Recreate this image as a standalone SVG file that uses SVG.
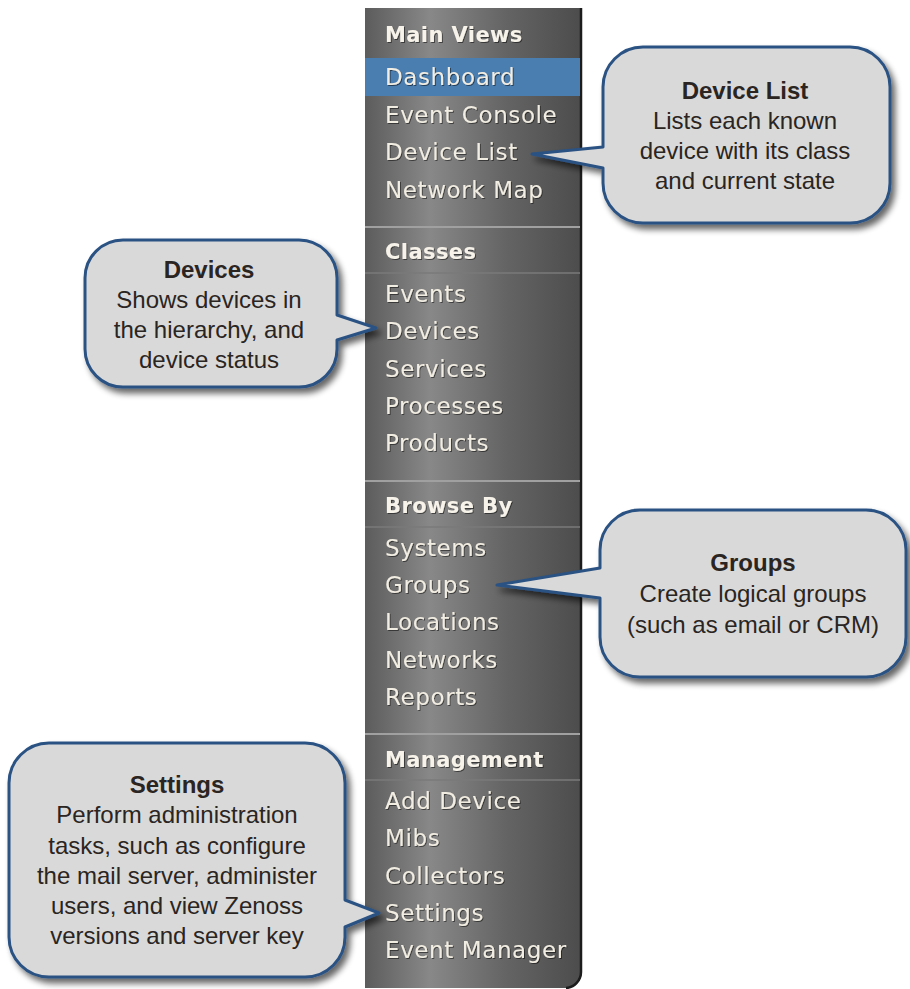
<svg xmlns="http://www.w3.org/2000/svg" width="910" height="989" viewBox="0 0 910 989">
  <defs>
    <linearGradient id="panelGrad" x1="0" y1="0" x2="1" y2="0">
      <stop offset="0" stop-color="#5c5c5c"/>
      <stop offset="0.3" stop-color="#888888"/>
      <stop offset="0.65" stop-color="#646464"/>
      <stop offset="1" stop-color="#4c4c4c"/>
    </linearGradient>
    <filter id="dropShadow" x="-10%" y="-10%" width="125%" height="130%">
      <feGaussianBlur in="SourceAlpha" stdDeviation="3"/>
      <feOffset dx="4" dy="5" result="b"/>
      <feComponentTransfer><feFuncA type="linear" slope="0.6"/></feComponentTransfer>
      <feMerge><feMergeNode/><feMergeNode in="SourceGraphic"/></feMerge>
    </filter>
    <filter id="textShadow" x="-5%" y="-20%" width="110%" height="140%">
      <feOffset in="SourceAlpha" dx="1" dy="1" result="o"/>
      <feComponentTransfer in="o" result="s"><feFuncA type="linear" slope="0.5"/></feComponentTransfer>
      <feMerge><feMergeNode in="s"/><feMergeNode in="SourceGraphic"/></feMerge>
    </filter>
  </defs>
  <style>
    .menu { font-family: "DejaVu Sans", Verdana, sans-serif; font-size: 23px; letter-spacing: 0.6px; fill: #f2ede2; }
    .head { font-size: 21px; font-weight: bold; letter-spacing: 0.4px; fill: #f7f3ea; }
    .sepMajor { stroke: #a0a0a0; stroke-width: 2; }
    .sepMinor { stroke: #7a7a7a; stroke-width: 1.5; }
    .bubble { fill: #d9d9d9; stroke: #2b5283; stroke-width: 3; stroke-linejoin: round; }
    .note { font-family: "Liberation Sans", Arial, sans-serif; font-size: 24px; fill: #2a2522; text-anchor: middle; }
    .title { font-weight: bold; }
  </style>

  <rect width="910" height="989" fill="#ffffff"/>

  <!-- navigation sidebar -->
  <g id="sidebar">
    <path d="M365,8 H582 V972 A16,16 0 0 1 566,988 H365 Z" fill="url(#panelGrad)"/>
    <path d="M581,8 V972 A16,16 0 0 1 566,988" fill="none" stroke="#1c1c1c" stroke-width="2.5"/>
    <rect x="365" y="58" width="215" height="38" fill="#4a7db0"/>
    <line class="sepMajor" x1="365" y1="227" x2="580" y2="227"/>
    <line class="sepMinor" x1="365" y1="273" x2="580" y2="273"/>
    <line class="sepMajor" x1="365" y1="481" x2="580" y2="481"/>
    <line class="sepMinor" x1="365" y1="527" x2="580" y2="527"/>
    <line class="sepMajor" x1="365" y1="734" x2="580" y2="734"/>
    <line class="sepMinor" x1="365" y1="780" x2="580" y2="780"/>
    <g class="menu" filter="url(#textShadow)">
      <text class="head" x="385" y="42">Main Views</text>
      <text x="385" y="85">Dashboard</text>
      <text x="385" y="123">Event Console</text>
      <text x="385" y="160">Device List</text>
      <text x="385" y="198">Network Map</text>
      <text class="head" x="385" y="259">Classes</text>
      <text x="385" y="302">Events</text>
      <text x="385" y="339">Devices</text>
      <text x="385" y="377">Services</text>
      <text x="385" y="414">Processes</text>
      <text x="385" y="451">Products</text>
      <text class="head" x="385" y="513">Browse By</text>
      <text x="385" y="556">Systems</text>
      <text x="385" y="593">Groups</text>
      <text x="385" y="630">Locations</text>
      <text x="385" y="668">Networks</text>
      <text x="385" y="705">Reports</text>
      <text class="head" x="385" y="767">Management</text>
      <text x="385" y="809">Add Device</text>
      <text x="385" y="846">Mibs</text>
      <text x="385" y="884">Collectors</text>
      <text x="385" y="921">Settings</text>
      <text x="385" y="958">Event Manager</text>
    </g>
  </g>

  <!-- callouts pointing at menu entries -->
  <g id="connectors"></g>

  <g id="callout-device-list">
    <path class="bubble" filter="url(#dropShadow)" d="M643,47 H850 A40,40 0 0 1 890,87 V183 A40,40 0 0 1 850,223 H643 A40,40 0 0 1 603,183 V168 L532,154 L603,147 V87 A40,40 0 0 1 643,47 Z"/>
    <text class="note title" x="745" y="99">Device List</text>
    <text class="note" x="745" y="129">Lists each known</text>
    <text class="note" x="745" y="159">device with its class</text>
    <text class="note" x="745" y="189">and current state</text>
  </g>

  <g id="callout-devices">
    <path class="bubble" filter="url(#dropShadow)" d="M123,240 H299 A38,38 0 0 1 337,278 V315 L376,328 L337,340 V349 A38,38 0 0 1 299,387 H123 A38,38 0 0 1 85,349 V278 A38,38 0 0 1 123,240 Z"/>
    <text class="note title" x="209" y="278">Devices</text>
    <text class="note" x="209" y="308">Shows devices in</text>
    <text class="note" x="209" y="338">the hierarchy, and</text>
    <text class="note" x="209" y="368">device status</text>
  </g>

  <g id="callout-groups">
    <path class="bubble" filter="url(#dropShadow)" d="M640,510 H866 A40,40 0 0 1 906,550 V637 A40,40 0 0 1 866,677 H640 A40,40 0 0 1 600,637 V598 L497,585 L600,568 V550 A40,40 0 0 1 640,510 Z"/>
    <text class="note title" x="753" y="571">Groups</text>
    <text class="note" x="753" y="602">Create logical groups</text>
    <text class="note" x="753" y="633">(such as email or CRM)</text>
  </g>

  <g id="callout-settings">
    <path class="bubble" filter="url(#dropShadow)" d="M49,743 H305 A40,40 0 0 1 345,783 V900 L379,913 L345,927 V937 A40,40 0 0 1 305,977 H49 A40,40 0 0 1 9,937 V783 A40,40 0 0 1 49,743 Z"/>
    <text class="note title" x="177" y="793">Settings</text>
    <text class="note" x="177" y="823">Perform administration</text>
    <text class="note" x="177" y="854">tasks, such as configure</text>
    <text class="note" x="177" y="884">the mail server, administer</text>
    <text class="note" x="177" y="914">users, and view Zenoss</text>
    <text class="note" x="177" y="944">versions and server key</text>
  </g>
</svg>
